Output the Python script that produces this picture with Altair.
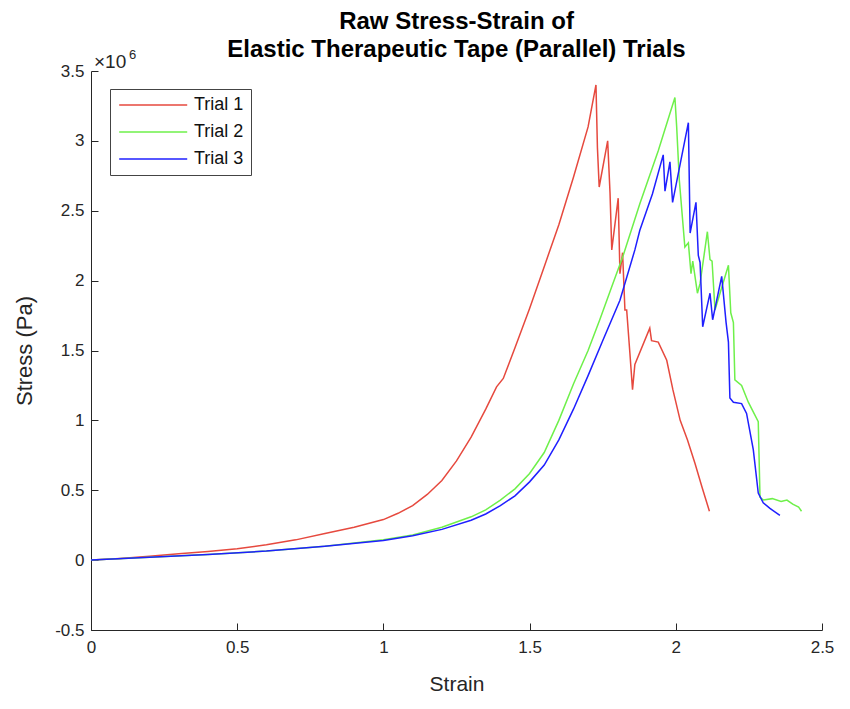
import altair as alt
import pandas as pd

# ---- data (stress in units of 10^6 Pa) ----
trial1_strain = [0.0, 0.1, 0.2, 0.3, 0.4, 0.5, 0.6, 0.7, 0.8, 0.9, 1.0, 1.05, 1.1, 1.15, 1.2, 1.25, 1.3,
                 1.35, 1.387, 1.41, 1.45, 1.5, 1.55, 1.6, 1.65, 1.7, 1.727, 1.732, 1.738, 1.767, 1.775,
                 1.781, 1.803, 1.809, 1.818, 1.826, 1.832, 1.843, 1.852, 1.86, 1.911, 1.917, 1.94, 1.969,
                 1.99, 2.015, 2.04, 2.066, 2.09, 2.115]
trial1_stress = [0.0, 0.012, 0.028, 0.045, 0.062, 0.082, 0.11, 0.145, 0.19, 0.235, 0.29, 0.335, 0.39, 0.47,
                 0.57, 0.71, 0.88, 1.08, 1.24, 1.30, 1.52, 1.80, 2.10, 2.40, 2.74, 3.10, 3.40, 2.95, 2.67,
                 3.00, 2.63, 2.22, 2.59, 2.05, 2.20, 1.79, 1.79, 1.48, 1.22, 1.40, 1.66, 1.57, 1.56, 1.43,
                 1.22, 1.00, 0.86, 0.69, 0.52, 0.35]

trial2_strain = [0.0, 0.2, 0.4, 0.6, 0.8, 1.0, 1.1, 1.2, 1.3, 1.35, 1.4, 1.45, 1.5, 1.55, 1.6, 1.65, 1.7,
                 1.74, 1.78, 1.82, 1.877, 1.94, 1.997, 2.003, 2.012, 2.031, 2.043, 2.052, 2.058, 2.074,
                 2.083, 2.108, 2.117, 2.124, 2.134, 2.18, 2.188, 2.197, 2.202, 2.225, 2.248, 2.282, 2.288,
                 2.30, 2.33, 2.36, 2.38, 2.40, 2.42, 2.43]
trial2_stress = [0.0, 0.02, 0.04, 0.065, 0.10, 0.145, 0.18, 0.235, 0.31, 0.36, 0.43, 0.51, 0.62, 0.77,
                 1.00, 1.26, 1.50, 1.72, 1.95, 2.18, 2.55, 2.93, 3.31, 3.10, 2.72, 2.24, 2.27, 2.05, 2.14,
                 1.91, 1.98, 2.35, 2.15, 2.14, 1.79, 2.11, 1.77, 1.70, 1.29, 1.25, 1.13, 0.99, 0.45, 0.43,
                 0.44, 0.42, 0.43, 0.40, 0.38, 0.35]

trial3_strain = [0.0, 0.2, 0.4, 0.6, 0.8, 1.0, 1.1, 1.2, 1.3, 1.35, 1.4, 1.45, 1.5, 1.55, 1.6, 1.65, 1.7,
                 1.75, 1.809, 1.86, 1.877, 1.92, 1.957, 1.963, 1.98, 1.989, 2.043, 2.049, 2.069, 2.077,
                 2.083, 2.092, 2.117, 2.126, 2.157, 2.172, 2.18, 2.185, 2.197, 2.225, 2.242, 2.265, 2.282,
                 2.299, 2.322, 2.356]
trial3_stress = [0.0, 0.02, 0.04, 0.065, 0.10, 0.14, 0.175, 0.22, 0.285, 0.33, 0.39, 0.46, 0.56, 0.68,
                 0.86, 1.08, 1.32, 1.57, 1.86, 2.22, 2.36, 2.62, 2.90, 2.64, 2.85, 2.56, 3.13, 2.34, 2.56,
                 2.18, 2.13, 1.67, 1.91, 1.72, 2.03, 1.70, 1.56, 1.16, 1.13, 1.12, 1.05, 0.79, 0.48, 0.41,
                 0.37, 0.32]

trial_names = ["Trial 1", "Trial 2", "Trial 3"]
trial_colors = ["#e6493e", "#6ef04a", "#1f1fff"]
x_ticks = [0, 0.5, 1, 1.5, 2, 2.5]
y_ticks = [-0.5, 0, 0.5, 1, 1.5, 2, 2.5, 3, 3.5]

rows = []
for name, xs, ys in zip(trial_names,
                        [trial1_strain, trial2_strain, trial3_strain],
                        [trial1_stress, trial2_stress, trial3_stress]):
    for i, (x, y) in enumerate(zip(xs, ys)):
        rows.append({"trial": name, "strain": x, "stress": y, "order": i})
df = pd.DataFrame(rows)

W, H = 731, 559
FONT = "Liberation Sans"
TXT = "#262626"

xscale = alt.Scale(domain=[0, 2.5], nice=False)
yscale = alt.Scale(domain=[-0.5, 3.5], nice=False)

lines = alt.Chart(df).mark_line(strokeWidth=1.5, clip=True).encode(
    x=alt.X("strain:Q", scale=xscale,
            axis=alt.Axis(title="Strain", values=x_ticks, labelExpr="'' + datum.value",
                          tickSize=0, grid=False, domainColor=TXT, labelColor=TXT, titleColor=TXT,
                          labelFont=FONT, labelFontSize=17, titleFont=FONT, titleFontSize=21,
                          titleFontWeight="normal", labelPadding=9, titlePadding=18,
                          labelFlush=False)),
    y=alt.Y("stress:Q", scale=yscale,
            axis=alt.Axis(title="Stress (Pa)", values=y_ticks, labelExpr="'' + datum.value",
                          tickSize=0, grid=False, domainColor=TXT, labelColor=TXT, titleColor=TXT,
                          labelFont=FONT, labelFontSize=17, titleFont=FONT, titleFontSize=22,
                          titleFontWeight="normal", labelPadding=7, titlePadding=18,
                          labelFlush=False)),
    color=alt.Color("trial:N",
                    scale=alt.Scale(domain=trial_names, range=trial_colors),
                    legend=alt.Legend(title=None, orient="none", legendX=19, legendY=18,
                                      strokeColor="#444444", fillColor="white", padding=7,
                                      symbolType="M-1,0H9", symbolSize=185, symbolStrokeWidth=1.5,
                                      labelFont=FONT, labelFontSize=18, labelColor="#111111",
                                      labelOffset=59, rowPadding=9)),
    order="order:Q",
)

ticks_layer = alt.Chart(df).mark_point(opacity=0).encode(
    x=alt.X("strain:Q", scale=xscale,
            axis=alt.Axis(orient="top", offset=-H, values=x_ticks, labels=False, domain=False,
                          grid=False, tickSize=7, tickColor=TXT, title=None)),
    y=alt.Y("stress:Q", scale=yscale,
            axis=alt.Axis(orient="right", offset=-W, values=y_ticks, labels=False, domain=False,
                          grid=False, tickSize=7, tickColor=TXT, title=None)),
)

label_df = pd.DataFrame({"t": ["×10", "6"]})
exp_base = alt.Chart(label_df).transform_filter("datum.t == '×10'").mark_text(
    align="left", baseline="alphabetic", font=FONT, fontSize=19, color=TXT
).encode(x=alt.value(3), y=alt.value(-3), text="t:N")
exp_sup = alt.Chart(label_df).transform_filter("datum.t == '6'").mark_text(
    align="left", baseline="alphabetic", font=FONT, fontSize=13, color=TXT
).encode(x=alt.value(38), y=alt.value(-12), text="t:N")

chart = alt.layer(lines, ticks_layer, exp_base, exp_sup).resolve_axis(
    x="independent", y="independent"
).properties(
    width=W, height=H,
    background="white",
    autosize=alt.AutoSizeParams(type="none"),
    padding={"left": 83, "top": 63, "right": 20, "bottom": 71},
    title=alt.TitleParams(text=["Raw Stress-Strain of", "Elastic Therapeutic Tape (Parallel) Trials"],
                          font=FONT, fontSize=24, fontWeight="bold", color="#000000",
                          anchor="middle", offset=8, lineHeight=28, dy=21),
).configure_view(stroke=None)

chart.save("out.html", embed_options={"renderer": "svg", "actions": False})
